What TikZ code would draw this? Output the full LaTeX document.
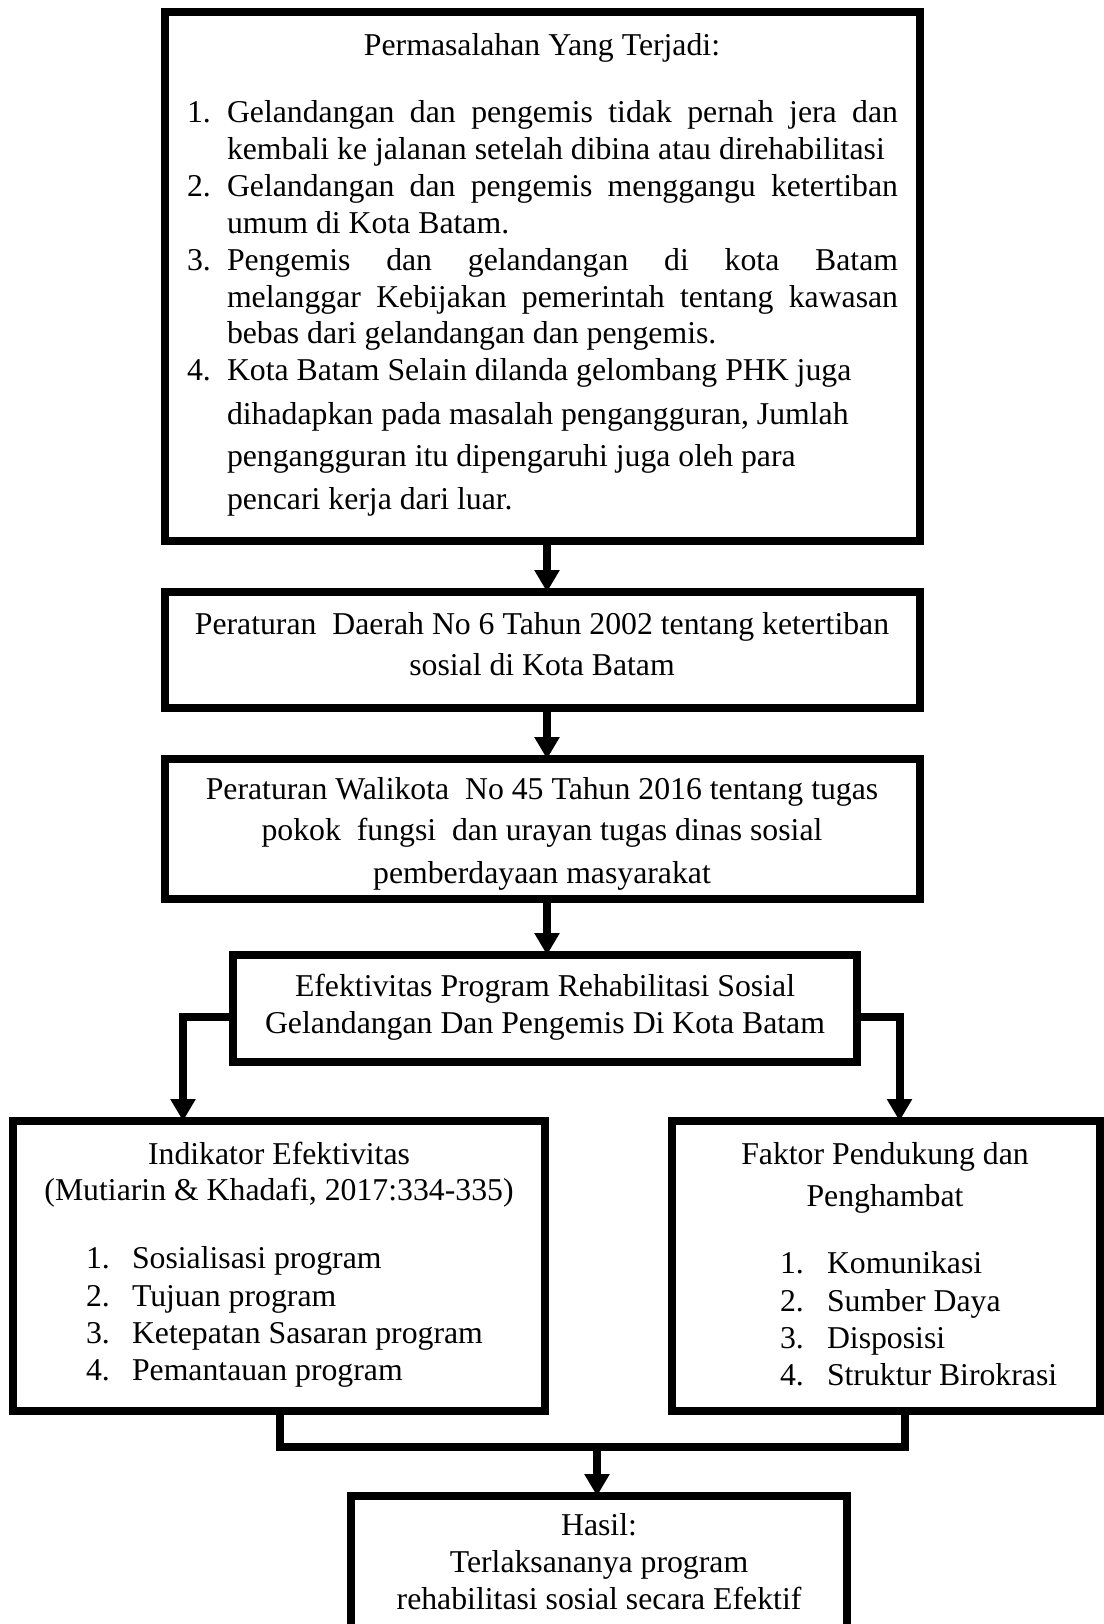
\documentclass[tikz,border=0pt]{standalone}
\usepackage{fontspec}
\setmainfont{Liberation Serif}
\usetikzlibrary{arrows.meta,fit}
\begin{document}
\begin{tikzpicture}[x=0.4pt,y=-0.4pt,
  frame/.style={draw, line width=3.2pt, inner sep=0pt, outer sep=0pt},
  arr/.style={line width=3.2pt, -{Triangle[width=9.6pt,length=8.8pt]}},
  conn/.style={line width=3.2pt},
  txt/.style={inner sep=0pt, outer sep=0pt, anchor=base, font=\fontsize{12.7}{15}\selectfont},
  ltxt/.style={txt, anchor=base west}]
\clip (0,0) rectangle (1104,1624);
% boxes
\node[frame, fit={(164.7,12) (920,541)}] (b1) {};
\node[frame, fit={(164.7,592) (920,708)}] (b2) {};
\node[frame, fit={(164.7,759) (920,899)}] (b3) {};
\node[frame, fit={(232.5,955) (857,1062)}] (b4) {};
\node[frame, fit={(13,1121) (545,1411)}] (b5) {};
\node[frame, fit={(671.5,1121) (1099.5,1411)}] (b6) {};
\node[frame, fit={(351,1496) (847,1660)}] (b7) {};
% box 1 text
\node[txt] (t1) at (542,56) {Permasalahan Yang Terjadi:};
\node[ltxt] (n1) at (187,123) {1.};
\node[ltxt] (t1a) at (227,123) {\makebox[268.4pt][s]{Gelandangan dan pengemis tidak pernah jera dan}};
\node[ltxt] (t1b) at (227,160) {kembali ke jalanan setelah dibina atau direhabilitasi};
\node[ltxt] (n2) at (187,197) {2.};
\node[ltxt] (t2a) at (227,197) {\makebox[268.4pt][s]{Gelandangan dan pengemis menggangu ketertiban}};
\node[ltxt] (t2b) at (227,234) {umum di Kota Batam.};
\node[ltxt] (n3) at (187,271) {3.};
\node[ltxt] (t3a) at (227,271) {\makebox[268.4pt][s]{Pengemis dan gelandangan di kota Batam}};
\node[ltxt] (t3b) at (227,308) {\makebox[268.4pt][s]{melanggar Kebijakan pemerintah tentang kawasan}};
\node[ltxt] (t3c) at (227,344) {bebas dari gelandangan dan pengemis.};
\node[ltxt] (n4) at (187,381) {4.};
\node[ltxt] (t4a) at (227,381) {Kota Batam Selain dilanda gelombang PHK juga};
\node[ltxt] (t4b) at (227,424) {dihadapkan pada masalah pengangguran, Jumlah};
\node[ltxt] (t4c) at (227,466) {pengangguran itu dipengaruhi juga oleh para};
\node[ltxt] (t4d) at (227,509) {pencari kerja dari luar.};
% box 2 text
\node[txt] (p1) at (542,634) {Peraturan\ \ Daerah No 6 Tahun 2002 tentang ketertiban};
\node[txt] (p2) at (542,675) {sosial di Kota Batam};
% box 3 text
\node[txt] (w1) at (542,799) {Peraturan Walikota\ \ No 45 Tahun 2016 tentang tugas};
\node[txt] (w2) at (542,840) {pokok\ \ fungsi\ \ dan urayan tugas dinas sosial};
\node[txt] (w3) at (542,883) {pemberdayaan masyarakat};
% box 4 text
\node[txt] (e1) at (545,996) {Efektivitas Program Rehabilitasi Sosial};
\node[txt] (e2) at (545,1033) {Gelandangan Dan Pengemis Di Kota Batam};
% box 5 text
\node[txt] (i1) at (279,1164) {Indikator Efektivitas};
\node[txt] (i2) at (279,1200) {(Mutiarin \& Khadafi, 2017:334-335)};
\node[ltxt] (in1) at (86,1268) {1.};
\node[ltxt] (ia) at (132,1268) {Sosialisasi program};
\node[ltxt] (in2) at (86,1306) {2.};
\node[ltxt] (ib) at (132,1306) {Tujuan program};
\node[ltxt] (in3) at (86,1343) {3.};
\node[ltxt] (ic) at (132,1343) {Ketepatan Sasaran program};
\node[ltxt] (in4) at (86,1380) {4.};
\node[ltxt] (id) at (132,1380) {Pemantauan program};
% box 6 text
\node[txt] (f1) at (885,1164) {Faktor Pendukung dan};
\node[txt] (f2) at (885,1206) {Penghambat};
\node[ltxt] (fn1) at (780,1273) {1.};
\node[ltxt] (fa) at (827,1273) {Komunikasi};
\node[ltxt] (fn2) at (780,1311) {2.};
\node[ltxt] (fb) at (827,1311) {Sumber Daya};
\node[ltxt] (fn3) at (780,1348) {3.};
\node[ltxt] (fc) at (827,1348) {Disposisi};
\node[ltxt] (fn4) at (780,1385) {4.};
\node[ltxt] (fd) at (827,1385) {Struktur Birokrasi};
% box 7 text
\node[txt] (h1) at (599,1535) {Hasil:};
\node[txt] (h2) at (599,1572) {Terlaksananya program};
\node[txt] (h3) at (599,1609) {rehabilitasi sosial secara Efektif};
% connectors
\draw[arr] (547,0 |- b1.south) -- (547,0 |- b2.north);
\draw[arr] (547,0 |- b2.south) -- (547,0 |- b3.north);
\draw[arr] (547,0 |- b3.south) -- (547,0 |- b4.north);
\coordinate (lj) at (183,1017);
\coordinate (rj) at (899.5,1017);
\draw[arr] (b4.west |- lj) -- (lj) -- (lj |- b5.north);
\draw[arr] (b4.east |- rj) -- (rj) -- (rj |- b6.north);
\coordinate (bl) at (280,1447);
\coordinate (br) at (905,1447);
\coordinate (bm) at (597,1447);
\draw[conn] (bl |- b5.south) -- (bl) -- (br) -- (br |- b6.south);
\draw[arr] (bm) -- (bm |- b7.north);
\end{tikzpicture}
\end{document}
